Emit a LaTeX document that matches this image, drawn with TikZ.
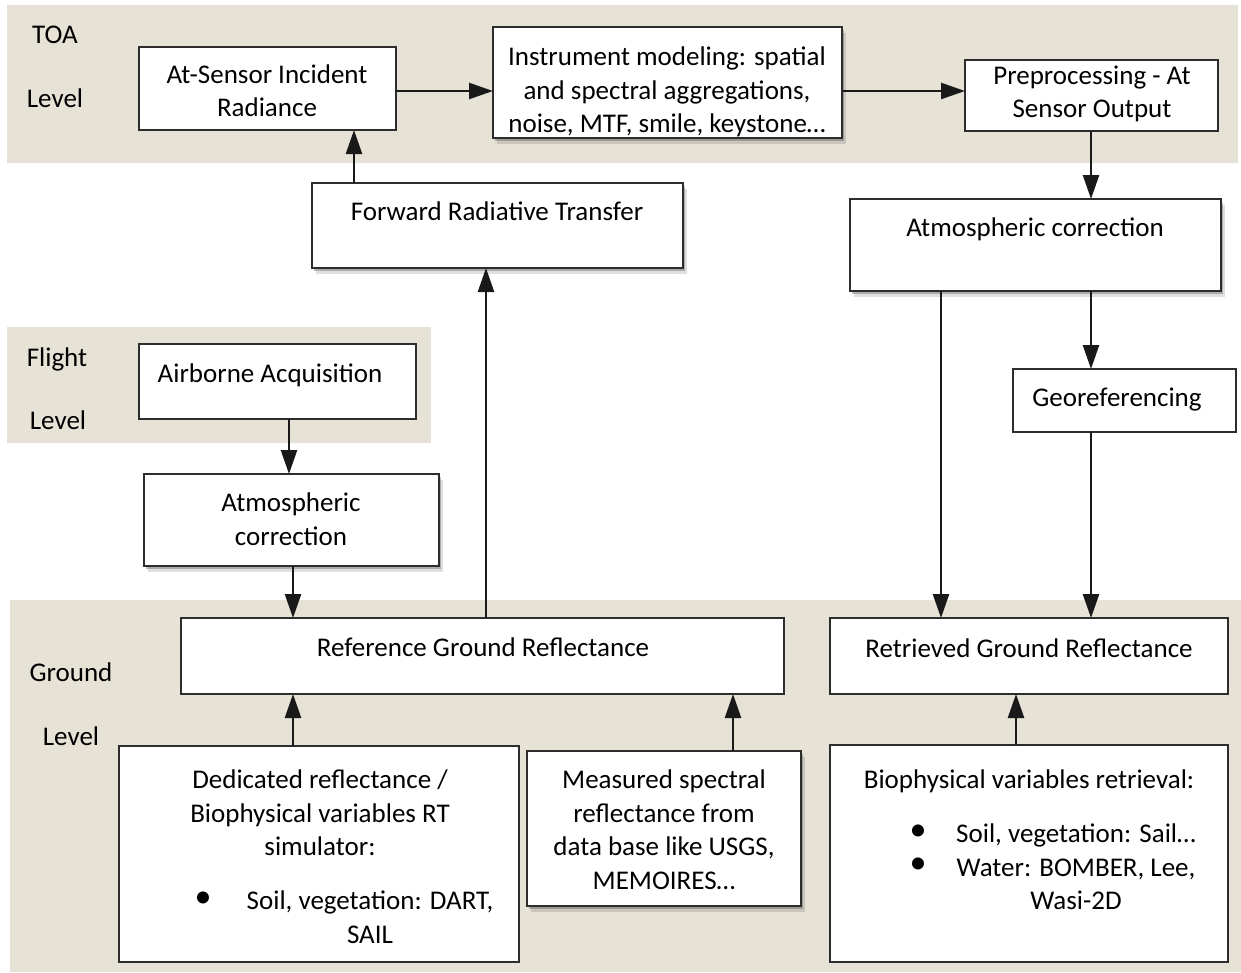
\documentclass[tikz,border=0pt]{standalone}
\usepackage{fontspec}
\setmainfont{Carlito}
\usetikzlibrary{arrows.meta,shadows}
\definecolor{bandbg}{RGB}{231,226,214}
\definecolor{boxline}{RGB}{45,45,45}
\newcommand\bx[6][]{\node[box,#1,minimum width={(#5-#3)*1pt},minimum height={(#6-#4)*1pt}] (#2) at (#3,#4) {};}
\begin{document}
\begin{tikzpicture}[x=1pt,y=-1pt,
  box/.style={draw=boxline,line width=1.3pt,fill=white,anchor=north west,inner sep=0pt,outer sep=0pt},
  shad/.style={drop shadow={shadow xshift=4pt,shadow yshift=-6pt,opacity=0.18,fill=black!70},
               drop shadow={shadow xshift=2pt,shadow yshift=-3pt,opacity=0.35,fill=black!70}},
  txt/.style={font=\fontsize{27}{33.5}\selectfont,align=center,inner sep=0pt,anchor=north,yshift=23.45pt,execute at begin node=\strut},
  bul/.style={font=\fontsize{34}{33.5}\selectfont,inner sep=0pt,anchor=center},
  arr/.style={line width=2.5pt,draw=black!90,-{Triangle[length=24pt,width=16pt]}},
  band/.style={fill=bandbg,draw=none}]
\useasboundingbox (0,0) rectangle (1241,972);
% background bands
\fill[band] (7,5) rectangle (1238,163);
\fill[band] (7,327) rectangle (431,443);
\fill[band] (10,600) rectangle (1241,972);
% level labels
\node[txt] (toaA) at (55,43) {TOA};
\node[txt] (toaB) at (55,107) {Level};
\node[txt] (flA) at (57,366) {Flight};
\node[txt] (flB) at (58,429) {Level};
\node[txt] (grA) at (71,681) {Ground};
\node[txt] (grB) at (71,745) {Level};
% boxes
\bx{ats}{139}{47}{396}{130}
\bx[shad]{ins}{493}{27}{842}{138}
\bx{pre}{965}{60}{1218}{131}
\bx[shad]{frt}{312}{183}{683}{268}
\bx[shad]{atmR}{850}{199}{1221}{291}
\bx{air}{139}{344}{416}{419}
\bx[shad]{atmL}{144}{474}{439}{566}
\bx{geo}{1013}{369}{1236}{432}
\bx{ref}{181}{618}{784}{694}
\bx{ret}{830}{618}{1228}{694}
\bx{ded}{119}{746}{519}{962}
\bx[shad]{mea}{527}{751}{801}{906}
\bx{bio}{830}{745}{1228}{962}
% texts
\node[txt] (atsT) at (267,88) {At-Sensor Incident\\Radiance};
\node[txt] (insT) at (667,70) {Instrument modeling: spatial\\and spectral aggregations,\\noise, MTF, smile, keystone…};
\node[txt] (preT) at (1092,89) {Preprocessing - At\\Sensor Output};
\node[txt] (frtT) at (497,220) {Forward Radiative Transfer};
\node[txt] (atmRT) at (1035,236) {Atmospheric correction};
\node[txt] (airT) at (270,382) {Airborne Acquisition};
\node[txt] (atmLT) at (291,516) {Atmospheric\\correction};
\node[txt] (geoT) at (1117,406) {Georeferencing};
\node[txt] (refT) at (483,656) {Reference Ground Reflectance};
\node[txt] (retT) at (1029,657) {Retrieved Ground Reflectance};
\node[txt] (dedT) at (320,793) {Dedicated reflectance /\\Biophysical variables RT\\simulator:};
\node[bul] (dedB) at (203,900) {\textbullet};
\node[txt] (dedL) at (370,914) {Soil, vegetation: DART,\\SAIL};
\node[txt] (meaT) at (664,793) {Measured spectral\\reflectance from\\data base like USGS,\\MEMOIRES…};
\node[txt] (bioT) at (1029,788) {Biophysical variables retrieval:};
\node[bul] (bioB1) at (918,833) {\textbullet};
\node[bul] (bioB2) at (918,866) {\textbullet};
\node[txt] (bioL) at (1076,847) {Soil, vegetation: Sail…\\Water: BOMBER, Lee,\\Wasi-2D};
% helper coordinates
\coordinate (yA) at (0,91);
\coordinate (xA) at (354,0);
\coordinate (xB) at (486,0);
\coordinate (xC) at (1091,0);
\coordinate (xD) at (941,0);
\coordinate (xE) at (289,0);
\coordinate (xF) at (293,0);
\coordinate (xG) at (733,0);
\coordinate (xH) at (1016,0);
% connectors
\draw[arr] (ats.east |- yA) -- (ins.west |- yA);
\draw[arr] (ins.east |- yA) -- (pre.west |- yA);
\draw[arr] (pre.south -| xC) -- (atmR.north -| xC);
\draw[arr] (frt.north -| xA) -- (ats.south -| xA);
\draw[arr] (ref.north -| xB) -- (frt.south -| xB);
\draw[arr] (atmR.south -| xD) -- (ret.north -| xD);
\draw[arr] (atmR.south -| xC) -- (geo.north -| xC);
\draw[arr] (geo.south -| xC) -- (ret.north -| xC);
\draw[arr] (air.south -| xE) -- (atmL.north -| xE);
\draw[arr] (atmL.south -| xF) -- (ref.north -| xF);
\draw[arr] (ded.north -| xF) -- (ref.south -| xF);
\draw[arr] (mea.north -| xG) -- (ref.south -| xG);
\draw[arr] (bio.north -| xH) -- (ret.south -| xH);
\end{tikzpicture}
\end{document}
